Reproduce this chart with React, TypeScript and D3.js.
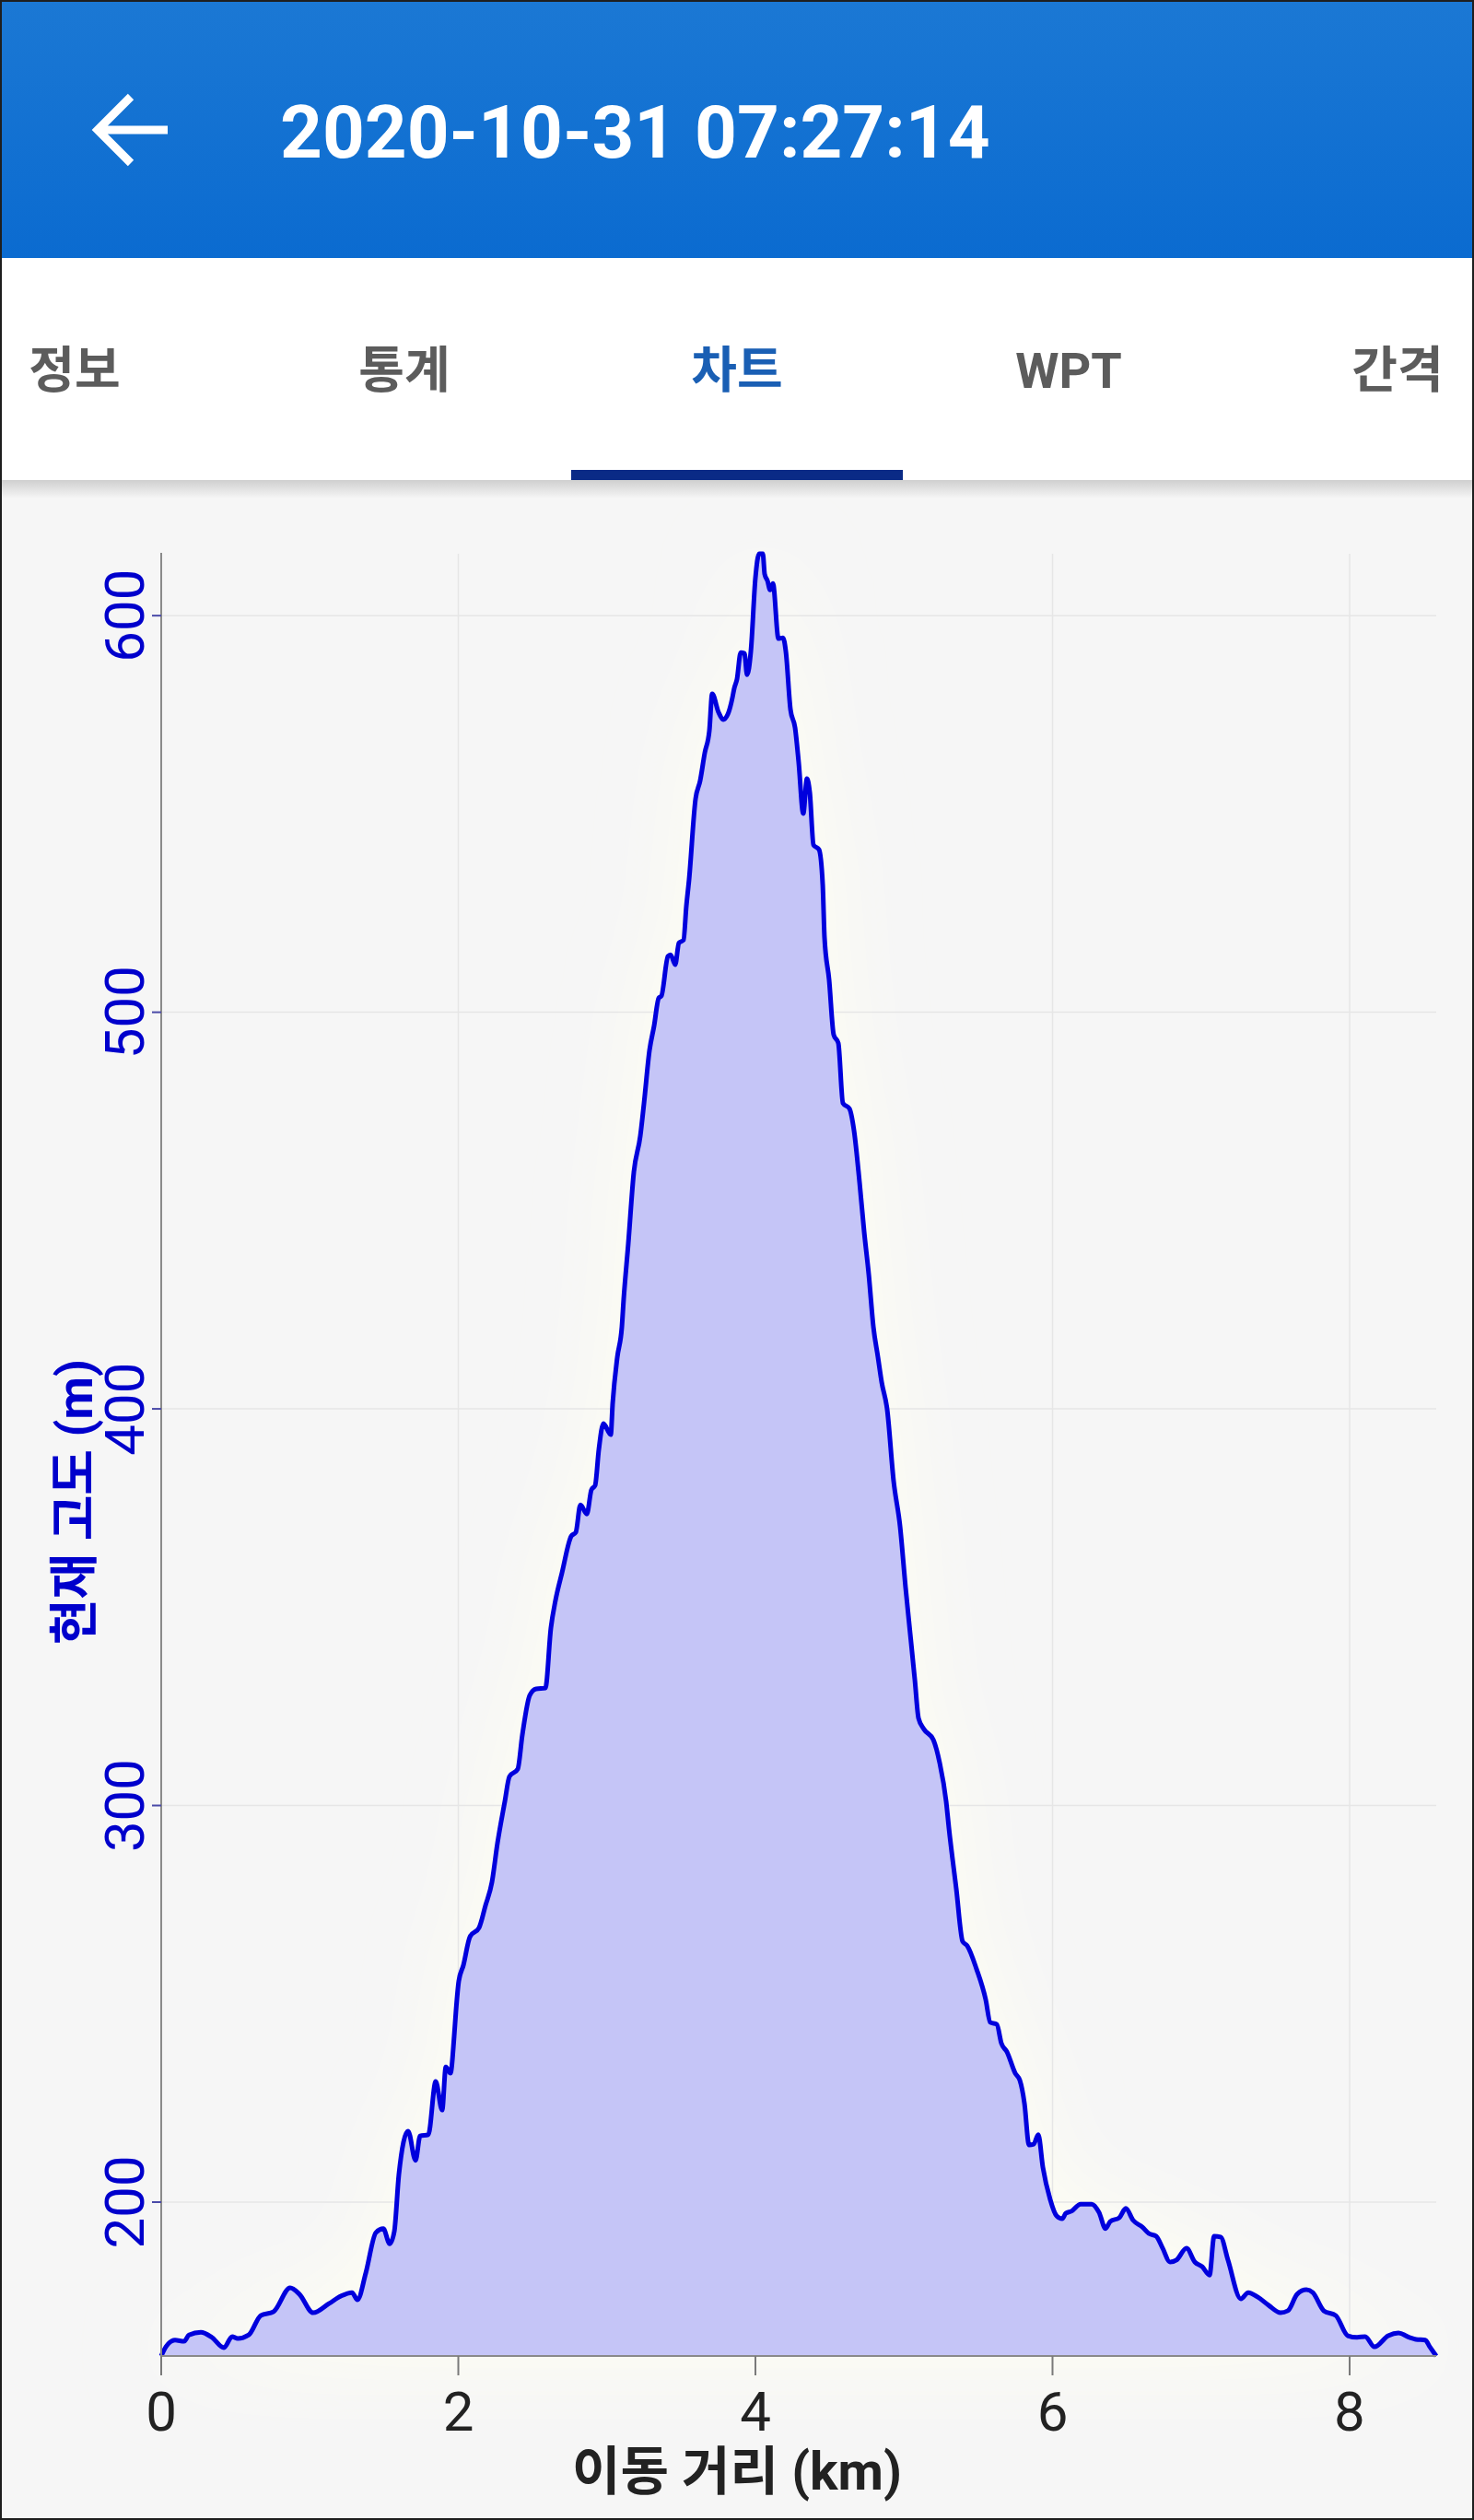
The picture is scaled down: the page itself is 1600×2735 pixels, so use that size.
import React, { useEffect } from "react";
import * as d3 from "d3";

const distanceKm = [
  0, 0.031, 0.093, 0.155, 0.186, 0.267, 0.341, 0.422, 0.478, 0.515, 0.589, 0.67, 0.757, 0.868, 0.93,
  1.023, 1.129, 1.209, 1.284, 1.321, 1.377, 1.445, 1.495, 1.538, 1.569, 1.6, 1.662, 1.712, 1.743, 1.798,
  1.848, 1.891, 1.916, 1.947, 1.972, 1.984, 2.003, 2.034, 2.078, 2.14, 2.183, 2.226, 2.264, 2.313, 2.344,
  2.4, 2.431, 2.481, 2.524, 2.586, 2.623, 2.654, 2.698, 2.76, 2.791, 2.822, 2.865, 2.896, 2.921, 2.946,
  2.977, 3.026, 3.039, 3.07, 3.101, 3.113, 3.144, 3.181, 3.225, 3.25, 3.287, 3.318, 3.349, 3.367, 3.411,
  3.429, 3.46, 3.485, 3.516, 3.535, 3.553, 3.597, 3.628, 3.659, 3.69, 3.709, 3.752, 3.783, 3.814, 3.845,
  3.857, 3.876, 3.901, 3.926, 3.944, 3.969, 4.0, 4.025, 4.05, 4.062, 4.081, 4.099, 4.118, 4.155, 4.186,
  4.205, 4.236, 4.267, 4.291, 4.322, 4.347, 4.366, 4.391, 4.428, 4.453, 4.465, 4.496, 4.527, 4.558, 4.589,
  4.633, 4.664, 4.701, 4.732, 4.763, 4.794, 4.825, 4.85, 4.887, 4.93, 4.974, 5.011, 5.042, 5.073, 5.098,
  5.135, 5.197, 5.24, 5.284, 5.302, 5.352, 5.395, 5.426, 5.488, 5.55, 5.581, 5.625, 5.656, 5.693, 5.749,
  5.78, 5.811, 5.842, 5.873, 5.904, 5.935, 5.984, 6.028, 6.065, 6.09, 6.127, 6.189, 6.264, 6.313, 6.357,
  6.388, 6.45, 6.493, 6.543, 6.605, 6.648, 6.698, 6.741, 6.791, 6.834, 6.902, 6.958, 7.008, 7.057, 7.088,
  7.132, 7.181, 7.268, 7.318, 7.38, 7.454, 7.535, 7.584, 7.647, 7.709, 7.752, 7.826, 7.907, 7.988, 8.05,
  8.105, 8.167, 8.26, 8.329, 8.403, 8.447, 8.509, 8.54, 8.583,
];

const elevationM = [
  161.2, 163.5, 165.2, 164.9, 166.5, 167.2, 165.9, 163.3, 166.1, 165.6, 166.5, 171.4, 172.4, 178.4, 176.8,
  172.1, 174.4, 176.3, 177.2, 175.4, 182.1, 192.3, 193.3, 189.5, 192.6, 207.0, 217.9, 210.5, 216.7, 217.0,
  230.4, 223.2, 234.1, 232.5, 241.8, 248.1, 255.7, 259.7, 266.9, 269.2, 274.8, 280.6, 290.6, 301.0, 307.3,
  309.2, 317.8, 327.8, 329.4, 329.6, 344.7, 351.7, 358.7, 367.9, 368.9, 375.8, 373.5, 379.6, 380.7, 389.8,
  396.3, 393.5, 401.4, 413.0, 420.7, 427.6, 441.6, 459.5, 468.8, 477.1, 490.4, 496.6, 503.6, 504.1, 514.1,
  514.5, 512.0, 517.5, 518.2, 526.8, 533.3, 553.8, 558.4, 565.4, 571.0, 580.3, 575.6, 573.8, 575.1, 579.3,
  581.6, 584.0, 590.7, 590.5, 585.1, 590.9, 609.5, 615.6, 615.6, 610.5, 608.8, 606.5, 608.1, 594.2, 594.4,
  590.9, 576.3, 571.7, 563.1, 550.1, 558.9, 555.4, 542.2, 541.0, 532.2, 518.9, 508.2, 494.3, 492.2, 477.1,
  475.7, 470.1, 457.1, 444.6, 433.9, 420.7, 413.0, 406.7, 399.8, 381.9, 370.3, 354.9, 343.3, 331.7, 322.0,
  319.2, 316.6, 310.8, 301.0, 294.5, 279.0, 265.7, 264.6, 258.8, 251.1, 245.3, 244.8, 240.0, 237.9, 232.5,
  230.7, 224.9, 214.4, 214.6, 217.0, 208.8, 200.7, 196.5, 195.8, 197.2, 197.7, 199.5, 199.5, 197.4, 193.3,
  195.1, 196.1, 198.4, 195.4, 193.7, 192.1, 191.4, 188.4, 184.9, 185.4, 188.4, 184.9, 183.7, 181.6, 191.4,
  191.2, 185.4, 175.6, 177.2, 176.1, 174.0, 172.1, 172.6, 176.8, 177.9, 177.2, 172.6, 171.4, 166.3, 165.9,
  166.1, 163.5, 166.3, 167.0, 165.9, 165.4, 165.2, 163.5, 161.2,
];

const xTicks = [0, 2, 4, 6, 8];
const yTicks = [200, 300, 400, 500, 600];
const tabLabels = ["정보", "통계", "차트", "WPT", "간격"];
const titleText = "2020-10-31 07:27:14";
const xAxisTitle = "이동 거리 (km)";
const yAxisTitle = "현재 고도 (m)";

const W = 1600;
const H = 2735;
const FONT = "Roboto, 'Noto Sans CJK KR', 'Noto Sans', sans-serif";

export default function App() {
  useEffect(() => {
    document.body.style.margin = "0";
  }, []);

  const left = 175;
  const right = 1559;
  const top = 601;
  const bottom = 2557;

  const x = d3.scaleLinear().domain([0, d3.max(distanceKm) as number]).range([left, right]);
  const y = d3
    .scaleLinear()
    .domain([d3.min(elevationM) as number, d3.max(elevationM) as number])
    .range([bottom, top]);

  const pts: [number, number][] = distanceKm.map((d, i) => [d, elevationM[i]]);
  const area = d3
    .area<[number, number]>()
    .x((d) => x(d[0]))
    .y0(bottom)
    .y1((d) => y(d[1]))
    .curve(d3.curveMonotoneX);
  const line = d3
    .line<[number, number]>()
    .x((d) => x(d[0]))
    .y((d) => y(d[1]))
    .curve(d3.curveMonotoneX);

  const tabCenters = [81, 439, 800, 1160, 1517];

  return (
    <div style={{ position: "absolute", left: 0, top: 0, width: W, height: H }}>
      <svg width={W} height={H} viewBox={`0 0 ${W} ${H}`} style={{ display: "block" }}>
        <defs>
          <linearGradient id="hdr" x1="0" y1="0" x2="0" y2="1">
            <stop offset="0" stopColor="#1b78d4" />
            <stop offset="1" stopColor="#0b6bd0" />
          </linearGradient>
          <linearGradient id="shadow" x1="0" y1="0" x2="0" y2="1">
            <stop offset="0" stopColor="#cfcfcf" />
            <stop offset="1" stopColor="#f6f6f6" />
          </linearGradient>
          <filter id="glow" x="-20%" y="-20%" width="140%" height="140%">
            <feGaussianBlur stdDeviation="45" />
          </filter>
        </defs>

        {/* chart background */}
        <rect x={0} y={0} width={W} height={H} fill="#f6f6f6" />
        <path d={area(pts) || ""} fill="#fffff2" filter="url(#glow)" />

        {/* header */}
        <rect x={0} y={0} width={W} height={280} fill="url(#hdr)" />
        <path
          d="M182,141 H108 M142,105 L106,141 L142,177"
          fill="none"
          stroke="#ffffff"
          strokeWidth={9}
          strokeLinecap="butt"
          strokeLinejoin="miter"
        />
        <text x={304} y={171} fill="#ffffff" fontFamily={FONT} fontWeight="bold" fontSize={80}>
          {titleText}
        </text>

        {/* tabs */}
        <rect x={0} y={280} width={W} height={241} fill="#ffffff" />
        <rect x={0} y={521} width={W} height={20} fill="url(#shadow)" />
        {tabLabels.map((t, i) => (
          <text
            key={t}
            x={tabCenters[i]}
            y={421}
            textAnchor="middle"
            fill={i === 2 ? "#1a5fb4" : "#5c5c5c"}
            fontFamily={FONT}
            fontWeight="bold"
            fontSize={54}
          >
            {t}
          </text>
        ))}
        <rect x={620} y={510} width={360} height={11} fill="#0a2a86" />

        {/* grid */}
        {yTicks.map((t) => (
          <line key={"gy" + t} x1={left} x2={right} y1={y(t)} y2={y(t)} stroke="#e6e6e6" strokeWidth={1.5} />
        ))}
        {xTicks.filter((t) => t > 0).map((t) => (
          <line key={"gx" + t} x1={x(t)} x2={x(t)} y1={top} y2={bottom} stroke="#e6e6e6" strokeWidth={1.5} />
        ))}

        {/* area + line */}
        <path d={area(pts) || ""} fill="#c5c5f7" />
        <path d={line(pts) || ""} fill="none" stroke="#0000dd" strokeWidth={5} strokeLinejoin="round" />

        {/* axes */}
        <line x1={left} x2={left} y1={top - 1} y2={bottom} stroke="#8a8a8a" strokeWidth={2} />
        <line x1={left} x2={right} y1={bottom} y2={bottom} stroke="#8a8a8a" strokeWidth={2} />
        {xTicks.map((t) => (
          <g key={"xt" + t}>
            <line x1={x(t)} x2={x(t)} y1={bottom} y2={bottom + 21} stroke="#7a7a7a" strokeWidth={2} />
            <text
              x={x(t)}
              y={2638}
              textAnchor="middle"
              fill="#222222"
              fontFamily={FONT}
              fontSize={60}
            >
              {t}
            </text>
          </g>
        ))}
        {yTicks.map((t) => (
          <g key={"yt" + t}>
            <line x1={left - 10} x2={left} y1={y(t)} y2={y(t)} stroke="#4a4aa8" strokeWidth={2} />
            <text
              transform={`translate(156,${y(t)}) rotate(-90)`}
              textAnchor="middle"
              fill="#0000cc"
              fontFamily={FONT}
              fontSize={60}
            >
              {t}
            </text>
          </g>
        ))}

        {/* axis titles */}
        <text
          x={800}
          y={2702}
          textAnchor="middle"
          fill="#222222"
          fontFamily={FONT}
          fontWeight="bold"
          fontSize={57}
        >
          {xAxisTitle}
        </text>
        <text
          transform={`translate(100,1630) rotate(-90)`}
          textAnchor="middle"
          fill="#0000cc"
          fontFamily={FONT}
          fontWeight="bold"
          fontSize={54}
        >
          {yAxisTitle}
        </text>

        {/* frame */}
        <rect x={1} y={1} width={W - 2} height={H - 2} fill="none" stroke="#1e1e1e" strokeWidth={2} />
      </svg>
    </div>
  );
}
